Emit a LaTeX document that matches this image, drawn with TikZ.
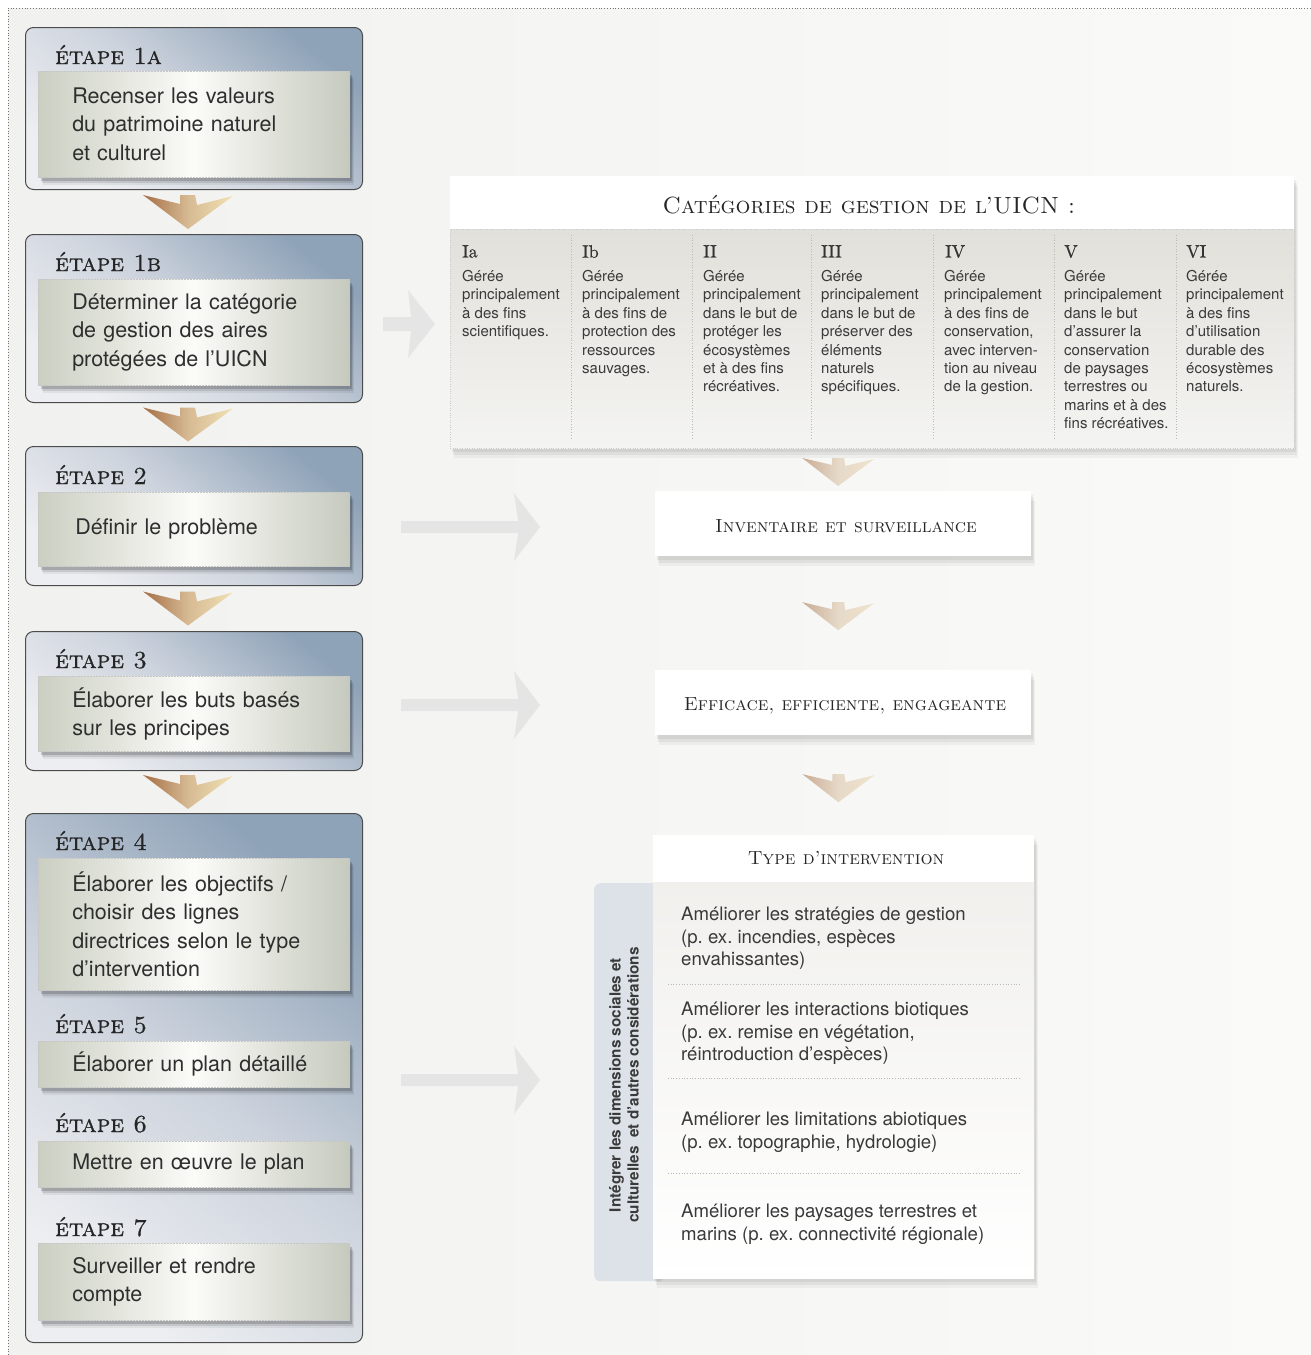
\documentclass[tikz,border=0pt]{standalone}
\usepackage{fontspec}
\setsansfont{TeX Gyre Heros}
\newfontfamily\capsfont{lmromancaps10-regular.otf}
\newfontfamily\capsbold[FakeBold=0.8]{lmromancaps10-regular.otf}
\newfontfamily\serifsb[FakeBold=0.6]{lmroman10-regular.otf}
\usetikzlibrary{calc,shadows}
\frenchspacing
\definecolor{bgl}{HTML}{F1F1EF}
\definecolor{bgr}{HTML}{FAFAF9}
\definecolor{txt}{HTML}{2E2E2E}
\definecolor{stxt}{HTML}{3A3A3A}
\definecolor{outerTR}{HTML}{8FA3B8}
\definecolor{outerM}{HTML}{CDD3DD}
\definecolor{outerB}{HTML}{ECEEF1}
\definecolor{innerL}{HTML}{CBCFC2}
\definecolor{innerM}{HTML}{FBFBF8}
\definecolor{innerR}{HTML}{C6CABE}
\definecolor{chevL}{HTML}{A56E45}
\definecolor{chevM}{HTML}{D6BA93}
\definecolor{chevR}{HTML}{F1E1B2}
\definecolor{pchevL}{HTML}{C8AC95}
\definecolor{pchevM}{HTML}{E6D9C8}
\definecolor{pchevR}{HTML}{EFE4CC}
\definecolor{catT}{HTML}{E2E0DA}
\definecolor{catB}{HTML}{F4F4F2}
\definecolor{typT}{HTML}{F1F0ED}
\definecolor{sidec}{HTML}{DCE2E7}
\definecolor{arrc}{HTML}{E5E5E5}
\tikzset{
  stepouter/.style={draw=black!70, line width=1pt, rounded corners=8pt, shade,
    top color=outerTR, bottom color=outerB, middle color=outerM, shading angle=-40,
    anchor=north west, inner sep=0pt},
  softshadow/.style={
    drop shadow={shadow xshift=3pt, shadow yshift=-4pt, opacity=0.16, fill=black},
    drop shadow={shadow xshift=4pt, shadow yshift=-6pt, opacity=0.10, fill=black},
    drop shadow={shadow xshift=5pt, shadow yshift=-8pt, opacity=0.06, fill=black}},
  lightshadow/.style={
    drop shadow={shadow xshift=2pt, shadow yshift=-4pt, opacity=0.06, fill=black},
    drop shadow={shadow xshift=3pt, shadow yshift=-7pt, opacity=0.05, fill=black},
    drop shadow={shadow xshift=4pt, shadow yshift=-10pt, opacity=0.04, fill=black}},
  stepinner/.style={draw=gray!45, densely dotted, line width=0.5pt, shade,
    left color=innerL, right color=innerR, middle color=innerM,
    anchor=north west, inner xsep=34pt, inner ysep=0pt, text width=243pt,
    minimum width=311pt, align=left, text=txt,
    font=\sffamily\fontsize{21.5}{28.5}\selectfont, softshadow},
  steplabel/.style={anchor=base west, inner sep=0pt, text=black!85,
    font=\capsbold\fontsize{24.5}{26}\selectfont},
  whitebox/.style={fill=white, anchor=north west, inner sep=0pt, lightshadow},
  boxtitle/.style={inner sep=0pt, text=black!85, font=\capsfont\fontsize{19}{22}\selectfont},
  colhead/.style={anchor=north west, inner sep=0pt, text=black!80,
    font=\serifsb\fontsize{18}{20}\selectfont},
  colbody/.style={anchor=north west, inner sep=0pt, align=left, text=stxt,
    font=\sffamily\fontsize{15}{18.4}\selectfont},
  itemtext/.style={anchor=north west, inner sep=0pt, align=left, text=stxt,
    font=\sffamily\fontsize{18.6}{22.6}\selectfont},
  sep/.style={draw=gray!55, dotted, line width=0.7pt},
  bigarrow/.style={fill=arrc},
  chev/.pic={\shade[left color=chevL, right color=chevR, middle color=chevM]
    (-45,-17) -- (-8,-8) -- (-8,-17) -- (7,-17) -- (9,-7) -- (45,-16) -- (0,17) -- cycle;},
  pchev/.pic={\shade[left color=pchevL, right color=pchevR, middle color=pchevM]
    (-36,-14) -- (-6,-7) -- (-6,-14) -- (6,-14) -- (7,-6) -- (36,-13) -- (0,14) -- cycle;}
}
\begin{document}
\begin{tikzpicture}[x=1pt,y=-1pt]
\useasboundingbox (0,0) rectangle (1311,1355);
\fill[white] (0,0) rectangle (1311,1355);
\shade[left color=bgl, right color=bgr] (8,8) rectangle (1311,1355);
\draw[black!55, dotted, line width=0.8pt] (8,1355) -- (8,8) -- (1311,8);

% ---------------- left column: steps
\node[stepouter, minimum width=337pt, minimum height=162pt] (o1a) at (25,27) {};
\node[stepouter, minimum width=337pt, minimum height=168pt] (o1b) at (25,234) {};
\node[stepouter, minimum width=337pt, minimum height=139pt] (o2) at (25,446) {};
\node[stepouter, minimum width=337pt, minimum height=139pt] (o3) at (25,631) {};
\node[stepouter, minimum width=337pt, minimum height=529pt] (o4) at (25,813) {};

\node[steplabel] (l1a) at (55,64) {étape 1a};
\node[steplabel] (l1b) at (55,271) {étape 1b};
\node[steplabel] (l2) at (55,484) {étape 2};
\node[steplabel] (l3) at (55,668) {étape 3};
\node[steplabel] (l4) at (55,850) {étape 4};
\node[steplabel] (l5) at (55,1033) {étape 5};
\node[steplabel] (l6) at (55,1132) {étape 6};
\node[steplabel] (l7) at (55,1236) {étape 7};

\node[stepinner, minimum height=106pt] (i1a) at (38,71) {Recenser les valeurs\\du patrimoine naturel\\et culturel};
\node[stepinner, minimum height=106pt] (i1b) at (38,279) {Déterminer la catégorie\\de gestion des aires\\protégées de l’UICN};
\node[stepinner, minimum height=74pt] (i2) at (38,492) {\hspace*{3pt}Définir le problème};
\node[stepinner, minimum height=75pt] (i3) at (38,676) {Élaborer les buts basés\\sur les principes};
\node[stepinner, minimum height=132pt] (i4) at (38,858) {Élaborer les objectifs /\\choisir des lignes\\directrices selon le type\\d’intervention};
\node[stepinner, minimum height=46pt] (i5) at (38,1041) {Élaborer un plan détaillé};
\node[stepinner, minimum height=46pt] (i6) at (38,1141) {Mettre en œuvre le plan};
\node[stepinner, minimum height=77pt] (i7) at (38,1243) {Surveiller et rendre\\compte};

% chevrons between steps
\pic at ($(o1a.south)!0.5!(o1b.north)+(-6,0)$) {chev};
\pic at ($(o1b.south)!0.5!(o2.north)+(-6,0)$) {chev};
\pic at ($(o2.south)!0.5!(o3.north)+(-6,0)$) {chev};
\pic at ($(o3.south)!0.5!(o4.north)+(-6,0)$) {chev};

% ---------------- categories box
\node[whitebox, minimum width=844pt, minimum height=272pt] (cat) at (450,176) {};
\node[anchor=north west, inner sep=0pt, minimum width=844pt, minimum height=219pt,
      shade, top color=catT, bottom color=catB, draw=gray!40, dotted] (catbody) at (450,229) {};
\node[boxtitle, font=\capsfont\fontsize{23.4}{26}\selectfont, anchor=base] (cattitle) at (869,213) {Catégories de gestion de l’UICN :};

\foreach \xx in {571,692,811,933,1054,1176}{
  \draw[sep] (\xx,235) -- (\xx,440);
}
\node[colhead] (hIa) at (462,245) {Ia};
\node[colhead] (hIb) at (582,245) {Ib};
\node[colhead] (hII) at (703,245) {II};
\node[colhead] (hIII) at (821,245) {III};
\node[colhead] (hIV) at (945,245) {IV};
\node[colhead] (hV) at (1064,245) {V};
\node[colhead] (hVI) at (1186,245) {VI};

\node[colbody] (bIa) at (462,270) {Gérée\\principalement\\à des fins\\scientifiques.};
\node[colbody] (bIb) at (582,270) {Gérée\\principalement\\à des fins de\\protection des\\ressources\\sauvages.};
\node[colbody] (bII) at (703,270) {Gérée\\principalement\\dans le but de\\protéger les\\écosystèmes\\et à des fins\\récréatives.};
\node[colbody] (bIII) at (821,270) {Gérée\\principalement\\dans le but de\\préserver des\\éléments\\naturels\\spécifiques.};
\node[colbody] (bIV) at (944,270) {Gérée\\principalement\\à des fins de\\conservation,\\avec interven-\\tion au niveau\\de la gestion.};
\node[colbody] (bV) at (1064,270) {Gérée\\principalement\\dans le but\\d’assurer la\\conservation\\de paysages\\terrestres ou\\marins et à des\\fins récréatives.};
\node[colbody] (bVI) at (1186,270) {Gérée\\principalement\\à des fins\\d’utilisation\\durable des\\écosystèmes\\naturels.};

% ---------------- right column
\node[whitebox, minimum width=376pt, minimum height=65pt] (inv) at (655,491) {};
\node[boxtitle, anchor=base] (invt) at (846,532) {Inventaire et surveillance};
\node[whitebox, minimum width=376pt, minimum height=65pt] (eff) at (655,670) {};
\node[boxtitle, anchor=base] (efft) at (845,710) {Efficace, efficiente, engageante};

\node[anchor=north west, fill=sidec, rounded corners=6pt, minimum width=70pt, minimum height=398pt, inner sep=0pt] (side) at (594,883) {};
\node[whitebox, minimum width=381pt, minimum height=443pt] (typ) at (653,835) {};
\node[anchor=north west, inner sep=0pt, minimum width=381pt, minimum height=396pt,
      shade, top color=typT, bottom color=white] (typbody) at (653,882) {};
\node[boxtitle, anchor=base] (typt) at (846,864) {Type d’intervention};

\node[rotate=90, align=center, inner sep=0pt, text=stxt,
      font=\sffamily\bfseries\fontsize{15.3}{18}\selectfont] (sidet) at (624,1085)
  {Intégrer les dimensions sociales et\\culturelles\ \ et d’autres considérations};

\node[itemtext] (it1) at (681,907) {Améliorer les stratégies de gestion\\(p. ex. incendies, espèces\\envahissantes)};
\node[itemtext] (it2) at (681,1002) {Améliorer les interactions biotiques\\(p. ex. remise en végétation,\\réintroduction d’espèces)};
\node[itemtext] (it3) at (681,1112) {Améliorer les limitations abiotiques\\(p. ex. topographie, hydrologie)};
\node[itemtext] (it4) at (681,1204) {Améliorer les paysages terrestres et\\marins (p. ex. connectivité régionale)};
\draw[sep] (668,984) -- (1020,984);
\draw[sep] (668,1078) -- (1020,1078);
\draw[sep] (668,1173) -- (1020,1173);

% pale chevrons
\pic at ($(inv.north)+(-5,-19)$) {pchev};
\pic at ($(inv.south)!0.5!(eff.north)+(-5,3)$) {pchev};
\pic at ($(eff.south)!0.5!(typ.north)+(-5,3)$) {pchev};

% big light arrows
\coordinate (a1s) at (383,324);
\coordinate (a1e) at (435,324);
\coordinate (a2s) at (401,527);
\coordinate (a2e) at (540,527);
\coordinate (a3s) at (401,705);
\coordinate (a3e) at (540,705);
\coordinate (a4s) at (401,1080);
\coordinate (a4e) at (540,1080);
\fill[bigarrow] ($(a1s)+(0,-7)$) -- ($(a1e)+(-24,-7)$) -- ($(a1e)+(-27,-34)$) -- (a1e) -- ($(a1e)+(-27,34)$) -- ($(a1e)+(-24,7)$) -- ($(a1s)+(0,7)$) -- cycle;
\foreach \s/\e in {a2s/a2e, a3s/a3e, a4s/a4e}{
  \fill[bigarrow] ($(\s)+(0,-6)$) -- ($(\e)+(-22,-6)$) -- ($(\e)+(-26,-34)$) -- (\e) -- ($(\e)+(-26,34)$) -- ($(\e)+(-22,6)$) -- ($(\s)+(0,6)$) -- cycle;
}
\end{tikzpicture}
\end{document}
